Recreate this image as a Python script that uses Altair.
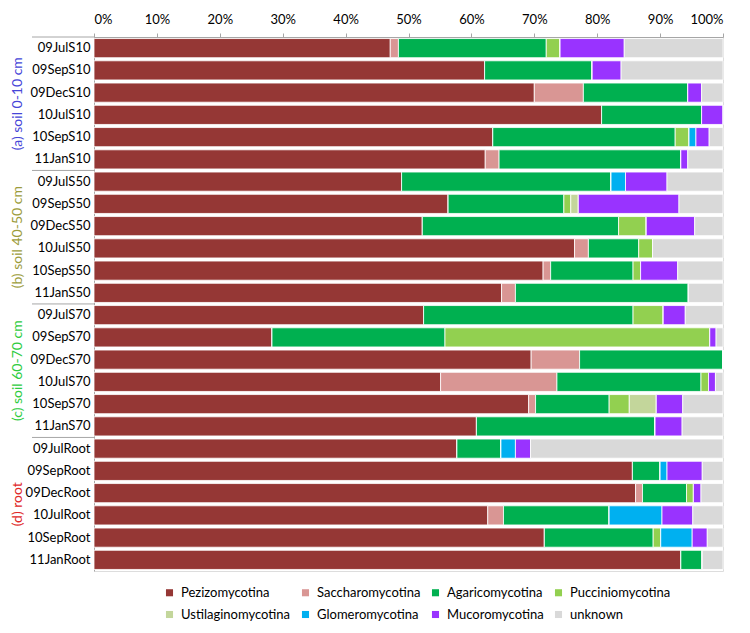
import altair as alt
import pandas as pd

samples = ["09JulS10", "09SepS10", "09DecS10", "10JulS10", "10SepS10", "11JanS10",
           "09JulS50", "09SepS50", "09DecS50", "10JulS50", "10SepS50", "11JanS50",
           "09JulS70", "09SepS70", "09DecS70", "10JulS70", "10SepS70", "11JanS70",
           "09JulRoot", "09SepRoot", "09DecRoot", "10JulRoot", "10SepRoot", "11JanRoot"]

categories = ["Pezizomycotina", "Saccharomycotina", "Agaricomycotina", "Pucciniomycotina",
              "Ustilaginomycotina", "Glomeromycotina", "Mucoromycotina", "unknown"]
colors = ["#953735", "#D99694", "#00B050", "#92D050", "#C3D69B", "#00B0F0", "#9933FF", "#D9D9D9"]

pezizo   = [47.1, 62.1, 70.0, 80.7, 63.4, 62.2, 48.9, 56.3, 52.2, 76.4, 71.4, 64.8,
            52.4, 28.3, 69.5, 55.1, 69.1, 60.8, 57.7, 85.6, 86.1, 62.6, 71.6, 93.3]
saccharo = [1.3, 0, 7.8, 0, 0, 2.2, 0, 0, 0, 2.2, 1.2, 2.2,
            0, 0, 7.7, 18.5, 1.1, 0, 0, 0, 1.1, 2.5, 0, 0]
agarico  = [23.5, 17.1, 16.6, 15.9, 29.0, 28.9, 33.3, 18.4, 31.2, 8.0, 13.1, 27.5,
            33.3, 27.5, 22.8, 22.9, 11.7, 28.4, 7.0, 4.4, 7.0, 16.8, 17.3, 3.4]
puccinio = [2.2, 0, 0, 0, 2.2, 0, 0, 1.1, 4.4, 2.2, 1.2, 0,
            4.8, 42.1, 0, 1.2, 3.2, 0, 0, 0, 1.1, 0, 1.2, 0]
ustilago = [0, 0, 0, 0, 0, 0, 0, 1.2, 0, 0, 0, 0,
            0, 0, 0, 0, 4.3, 0, 0, 0, 0, 0, 0, 0]
glomero  = [0, 0, 0, 0, 1.1, 0, 2.3, 0, 0, 0, 0, 0,
            0, 0, 0, 0, 0, 0, 2.3, 1.1, 0, 8.4, 5.0, 0]
mucoro   = [10.2, 4.6, 2.2, 3.4, 2.1, 1.1, 6.6, 16.0, 7.7, 0, 5.9, 0,
            3.5, 1.0, 0, 1.1, 4.2, 4.3, 2.4, 5.6, 1.2, 4.9, 2.4, 0]
unknown  = [15.7, 16.2, 3.4, 0, 2.2, 5.6, 8.9, 7.0, 4.5, 11.2, 7.2, 5.5,
            6.0, 1.1, 0, 1.2, 6.4, 6.5, 30.6, 3.3, 3.5, 4.8, 2.5, 3.3]

group_labels = ["(a) soil 0-10 cm", "(b) soil 40-50 cm", "(c) soil 60-70 cm", "(d) root"]
group_anchor = ["09DecS10", "09DecS50", "09DecS70", "09DecRoot"]
group_colors = ["#4646D8", "#9C9C3C", "#2ECC40", "#E02828"]
separators = ["11JanS10", "11JanS50", "11JanS70"]

series = [pezizo, saccharo, agarico, puccinio, ustilago, glomero, mucoro, unknown]
rows = []
for ci, (cat, vals) in enumerate(zip(categories, series)):
    for s, v in zip(samples, vals):
        rows.append({"sample": s, "category": cat, "idx": ci, "value": v})
df = pd.DataFrame(rows)

font = "Lato"
yscale = alt.Scale(domain=samples, paddingInner=0.14, paddingOuter=0.07)

bars = alt.Chart(df).mark_bar(stroke="white", strokeWidth=0.8).encode(
    x=alt.X("value:Q", stack="zero",
            scale=alt.Scale(domain=[0, 100], nice=False),
            axis=alt.Axis(orient="top", values=list(range(0, 101, 10)),
                          labelExpr="datum.value + '%'", grid=False, title=None,
                          domainColor="#a6a6a6", tickColor="#a6a6a6", tickSize=4,
                          labelFontSize=13, labelPadding=7, labelColor="black",
                          labelFont=font)),
    y=alt.Y("sample:N", sort=samples, scale=yscale,
            axis=alt.Axis(title=None, ticks=False, domainColor="#a6a6a6",
                          labelFontSize=13, labelPadding=4, labelColor="black",
                          labelFont=font)),
    color=alt.Color("category:N", scale=alt.Scale(domain=categories, range=colors),
                    legend=alt.Legend(title=None, orient="none", legendX=69, legendY=549,
                                      direction="horizontal",
                                      columns=4, symbolType="square", symbolSize=50,
                                      labelFontSize=13, labelFont=font, labelColor="black",
                                      columnPadding=8, rowPadding=8, symbolStrokeWidth=0,
                                      labelOffset=5, labelLimit=200)),
    order=alt.Order("idx:Q", sort="ascending"),
)

gdf = pd.DataFrame({"sample": group_anchor, "label": group_labels, "color": group_colors})
gtext = alt.Chart(gdf).mark_text(angle=270, fontSize=14, font=font, align="center",
                                 baseline="middle", yOffset=1.5).encode(
    x=alt.value(-76),
    y=alt.Y("sample:N", sort=samples, scale=yscale, bandPosition=1),
    text="label:N",
    color=alt.Color("color:N", scale=None),
)

sdf = pd.DataFrame({"sample": separators})
seps = alt.Chart(sdf).mark_rule(color="#a6a6a6", strokeWidth=1, yOffset=1.5).encode(
    x=alt.value(-62), x2=alt.value(0),
    y=alt.Y("sample:N", sort=samples, scale=yscale, bandPosition=1),
)

topline = alt.Chart(pd.DataFrame({"a": [0]})).mark_rule(color="#a6a6a6", strokeWidth=1).encode(
    x=alt.value(-62), x2=alt.value(0), y=alt.value(0),
)

chart = alt.layer(bars, gtext, seps, topline).resolve_scale(color="independent").properties(
    width=629, height=534,
    autosize=alt.AutoSizeParams(type="none"),
    padding={"left": 86, "top": 29, "right": 19, "bottom": 62},
).configure_view(stroke=None).configure(background="white")

chart.save("out.html", embed_options={"renderer": "svg", "actions": False})
